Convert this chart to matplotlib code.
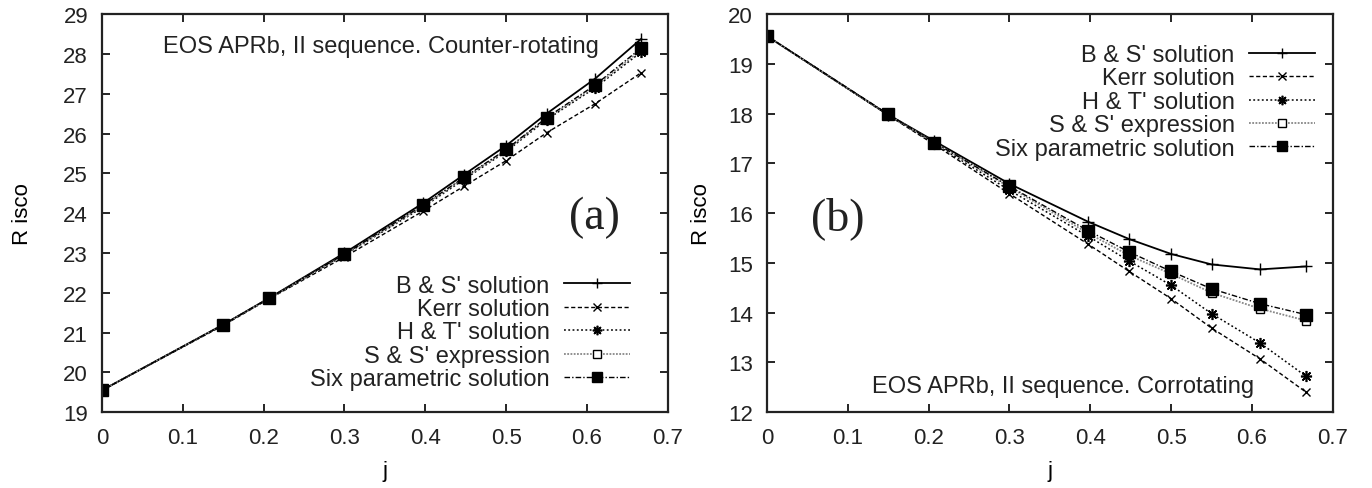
from matplotlib import pyplot as plt

# Valores de j (comunes a los dos paneles)
j = [0.0, 0.15, 0.207, 0.3, 0.397, 0.448, 0.5, 0.55, 0.61, 0.667]

# Panel (a): contra-rotante
bs_a = [19.55, 21.2, 21.87, 23.0, 24.25, 24.97, 25.7, 26.5, 27.38, 28.38]
kerr_a = [19.55, 21.18, 21.85, 22.9, 24.05, 24.68, 25.32, 26.02, 26.75, 27.53]
ht_a = [19.55, 21.2, 21.86, 22.95, 24.15, 24.85, 25.55, 26.35, 27.15, 28.05]
ss_a = [19.55, 21.2, 21.86, 22.96, 24.18, 24.88, 25.58, 26.38, 27.18, 28.1]
six_a = [19.55, 21.2, 21.87, 22.97, 24.2, 24.9, 25.6, 26.4, 27.22, 28.15]

# Panel (b): co-rotante
bs_b = [19.56, 17.98, 17.45, 16.59, 15.83, 15.48, 15.18, 14.97, 14.87, 14.93]
kerr_b = [19.56, 17.97, 17.38, 16.39, 15.38, 14.83, 14.28, 13.69, 13.07, 12.4]
ht_b = [19.56, 17.97, 17.4, 16.46, 15.54, 15.04, 14.55, 13.98, 13.39, 12.72]
ss_b = [19.56, 17.98, 17.42, 16.52, 15.6, 15.15, 14.78, 14.4, 14.08, 13.84]
six_b = [19.56, 17.99, 17.42, 16.54, 15.65, 15.22, 14.83, 14.48, 14.18, 13.96]

etiquetas = ["B & S' solution", "Kerr solution", "H & T' solution",
             "S & S' expression", "Six parametric solution"]

plt.rcParams['font.family'] = ['Liberation Sans', 'DejaVu Sans']
plt.rcParams['font.size'] = 16
plt.rcParams['text.color'] = '#222222'

fig = plt.figure(figsize=(13.72, 4.89), dpi=100)
ax1 = fig.add_axes([0.0743, 0.155, 0.4125, 0.814])
ax2 = fig.add_axes([0.559, 0.155, 0.4125, 0.814])

# Asterisco tipo gnuplot (8 brazos)
asterisco = (8, 2, 0)


def dibujar(ax, bs, kerr, ht, ss, six):
    ax.plot(j, bs, color='black', lw=1.3, ls='-', marker='+', ms=8, mew=1.0, label=etiquetas[0])
    ax.plot(j, kerr, color='black', lw=1.0, ls=(0, (3, 1.8)), marker='x', ms=6, mew=1.0, label=etiquetas[1])
    ax.plot(j, ht, color='black', lw=1.1, ls=(0, (1.2, 1.6)), marker=asterisco, ms=8, mew=1.2, label=etiquetas[2])
    ax.plot(j, ss, color='#888888', lw=1.3, ls=(0, (1, 0.8)), marker='s', ms=6, mfc='white', mec='black',
            mew=1.0, label=etiquetas[3])
    ax.plot(j, six, color='black', lw=1.0, ls=(0, (4, 1.5, 1, 1.5)), marker='s', ms=8, mfc='black', mec='black',
            label=etiquetas[4])
    ax.set_xlim(0, 0.7)
    ax.set_xticks([0, 0.1, 0.2, 0.3, 0.4, 0.5, 0.6, 0.7])
    ax.set_xticklabels(['0', '0.1', '0.2', '0.3', '0.4', '0.5', '0.6', '0.7'])
    ax.tick_params(direction='in', top=True, right=True, length=6, width=1.2, labelsize=16,
                   labelcolor='#222222')
    ax.tick_params(axis='x', pad=11)
    ax.tick_params(axis='y', pad=10)
    for s in ax.spines.values():
        s.set_linewidth(1.6)
        s.set_color('#222222')
    ax.set_xlabel("j", fontsize=16, labelpad=8)


# Panel izquierdo
dibujar(ax1, bs_a, kerr_a, ht_a, ss_a, six_a)
ax1.set_ylim(19, 29)
ax1.set_yticks(range(19, 30))
ax1.set_ylabel("R isco", fontsize=16, labelpad=22)
ax1.text(0.108, 0.92, "EOS APRb, II sequence. Counter-rotating", transform=ax1.transAxes, fontsize=17,
         va='center')
ax1.text(0.87, 0.49, "(a)", transform=ax1.transAxes, fontsize=33, family='Liberation Serif',
         ha='center', va='center')
ax1.legend(loc='lower right', bbox_to_anchor=(0.933, 0.055), frameon=False, markerfirst=False,
           handlelength=2.8, handletextpad=0.6, labelspacing=0.06, fontsize=17, borderaxespad=0,
           borderpad=0, markerscale=0.85)

# Panel derecho
dibujar(ax2, bs_b, kerr_b, ht_b, ss_b, six_b)
ax2.set_ylim(12, 20)
ax2.set_yticks(range(12, 21))
ax2.set_ylabel("R isco", fontsize=16, labelpad=12)
ax2.text(0.86, 0.065, "EOS APRb, II sequence. Corrotating", transform=ax2.transAxes, fontsize=17,
         ha='right', va='center')
ax2.text(0.125, 0.49, "(b)", transform=ax2.transAxes, fontsize=33, family='Liberation Serif',
         ha='center', va='center')
ax2.legend(loc='upper right', bbox_to_anchor=(0.968, 0.925), frameon=False, markerfirst=False,
           handlelength=2.8, handletextpad=0.6, labelspacing=0.06, fontsize=17, borderaxespad=0,
           borderpad=0, markerscale=0.85)

plt.savefig('out.png', dpi=100)
